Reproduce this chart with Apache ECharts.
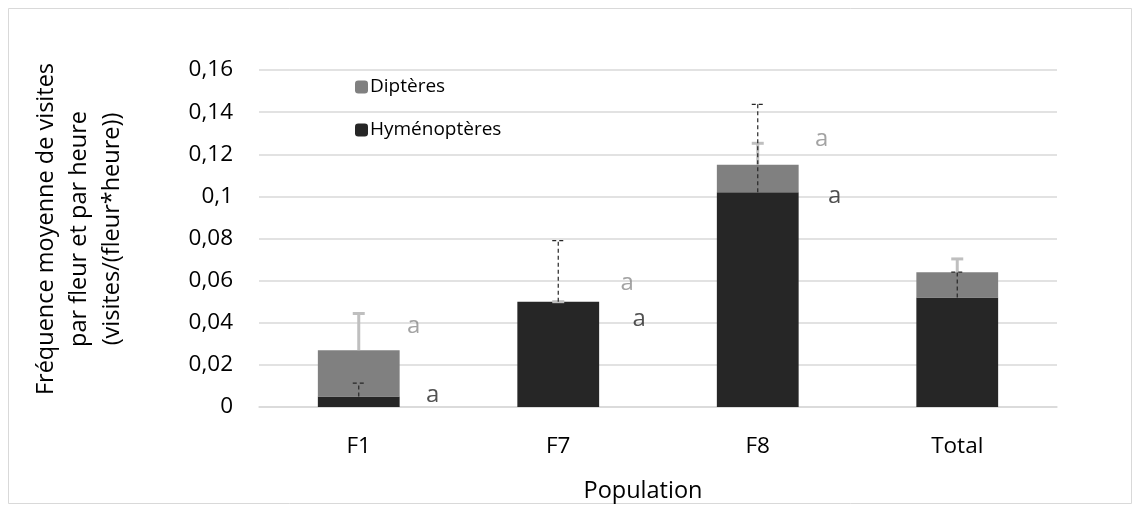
<!DOCTYPE html>
<html>
<head>
<meta charset="utf-8">
<script src="https://cdn.jsdelivr.net/npm/echarts@6/dist/echarts.min.js"></script>
<style>
  html, body { margin: 0; padding: 0; background: #ffffff; }
  #chart { width: 1140px; height: 512px; }
</style>
</head>
<body>
<div id="chart"></div>
<script>
// Populations on the x axis
const categories = ['F1', 'F7', 'F8', 'Total'];
// Mean visit frequency per flower and per hour, stacked by pollinator group
const hymenopteres = [0.005, 0.050, 0.102, 0.052];
const dipteres = [0.022, 0.000, 0.013, 0.012];
// Upper error (added on top of each segment)
const hymErr = [0.0063, 0.029, 0.0417, 0.012];
const dipErr = [0.0174, 0.000, 0.0102, 0.0063];
// Significance letters (value where each letter sits)
const dipLetters = ['a', 'a', 'a'];
const dipLetterY = [0.0385, 0.059, 0.1273];
const hymLetters = ['a', 'a', 'a'];
const hymLetterY = [0.0057, 0.0418, 0.1002];
// Y tick labels (French decimal format)
const yTickLabels = ['0', '0,02', '0,04', '0,06', '0,08', '0,1', '0,12', '0,14', '0,16'];

const FONT = '"Open Sans", "Noto Sans", sans-serif';
const DARK = '#262626';
const GREY = '#808080';
const ERR_GREY = '#bfbfbf';

// pixel shifts of the letters to the right of each bar
const dipLetterShift = [55, 69, 64];
const hymLetterShift = [74, 81, 77];

function errorBar(base, err, style) {
  return function (params, api) {
    const i = params.dataIndex;
    const b = base(i);
    const p0 = api.coord([i, b]);
    const p1 = api.coord([i, b + err[i]]);
    const half = 6;
    return {
      type: 'group',
      children: [
        { type: 'line', shape: { x1: p0[0], y1: p0[1], x2: p1[0], y2: p1[1] }, style: style },
        { type: 'line', shape: { x1: p1[0] - half, y1: p1[1], x2: p1[0] + half, y2: p1[1] }, style: style }
      ]
    };
  };
}

const chart = echarts.init(document.getElementById('chart'), null, { renderer: 'canvas' });
chart.setOption({
  animation: false,
  backgroundColor: '#ffffff',
  textStyle: { fontFamily: FONT },
  graphic: [
    { type: 'rect', shape: { x: 8.5, y: 8.5, width: 1123, height: 495 },
      style: { fill: 'none', stroke: '#d9d9d9', lineWidth: 1 }, silent: true, z: -10 },
    { type: 'text', x: 79, y: 229, rotation: Math.PI / 2, z: 10,
      style: { text: 'Fréquence moyenne de visites\npar fleur et par heure\n(visites/(fleur*heure))',
               fill: '#000', font: '23.5px ' + FONT, align: 'center', verticalAlign: 'middle',
               lineHeight: 33 } }
  ],
  grid: { left: 259, right: 83, top: 70, bottom: 105, outerBoundsMode: 'none', containLabel: false },
  legend: {
    orient: 'vertical', left: 350, top: 72, itemWidth: 13, itemHeight: 13, itemGap: 23,
    textStyle: { fontSize: 19, color: '#000', fontFamily: FONT, lineHeight: 20, padding: [0, 0, 0, -3] },
    data: ['Diptères', 'Hyménoptères']
  },
  xAxis: {
    type: 'category', data: categories,
    name: 'Population', nameLocation: 'middle', nameGap: 72,
    nameTextStyle: { fontSize: 23.5, color: '#000', padding: [0, 30, 0, 0] },
    axisLine: { lineStyle: { color: '#d9d9d9', width: 1.5 } },
    axisTick: { show: false },
    axisLabel: { fontSize: 22.5, color: '#000', margin: 28 }
  },
  yAxis: {
    type: 'value', min: 0, max: 0.16, interval: 0.02,
    axisLine: { show: false }, axisTick: { show: false },
    splitLine: { lineStyle: { color: '#d9d9d9', width: 1.5 } },
    axisLabel: { fontSize: 22.5, color: '#000', margin: 26,
      formatter: v => yTickLabels[Math.round(v / 0.02)] }
  },
  series: [
    { name: 'Hyménoptères', type: 'bar', stack: 'v', data: hymenopteres, barWidth: '41%',
      itemStyle: { color: DARK } },
    { name: 'Diptères', type: 'bar', stack: 'v', data: dipteres, barWidth: '41%',
      itemStyle: { color: GREY } },
    { type: 'custom', name: 'errDip', z: 3,
      renderItem: errorBar(i => hymenopteres[i] + dipteres[i], dipErr,
        { stroke: ERR_GREY, lineWidth: 3 }),
      data: categories.map((c, i) => [i, hymenopteres[i] + dipteres[i] + dipErr[i]]) },
    { type: 'custom', name: 'errHym', z: 4,
      renderItem: errorBar(i => hymenopteres[i], hymErr,
        { stroke: DARK, lineWidth: 1.2, lineDash: [4, 3] }),
      data: categories.map((c, i) => [i, hymenopteres[i] + hymErr[i]]) },
    { type: 'scatter', name: 'lettresDip', symbolSize: 0, z: 5,
      data: dipLetterY.map((y, i) => ({ value: [i, y],
        label: { offset: [dipLetterShift[i], 0] } })),
      label: { show: true, position: 'inside', formatter: p => dipLetters[p.dataIndex],
        fontSize: 24, color: '#8c8c8c', fontFamily: FONT } },
    { type: 'scatter', name: 'lettresHym', symbolSize: 0, z: 5,
      data: hymLetterY.map((y, i) => ({ value: [i, y],
        label: { offset: [hymLetterShift[i], 0] } })),
      label: { show: true, position: 'inside', formatter: p => hymLetters[p.dataIndex],
        fontSize: 24, color: DARK, fontFamily: FONT } }
  ]
});
</script>
</body>
</html>
